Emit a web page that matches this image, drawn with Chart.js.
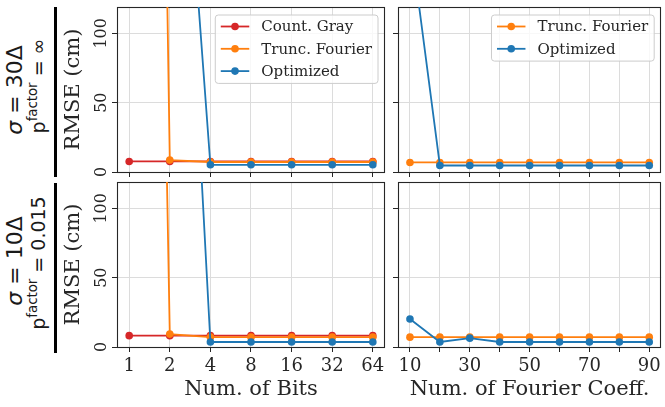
<!DOCTYPE html>
<html>
<head>
<meta charset="utf-8">
<script src="https://cdn.jsdelivr.net/npm/chart.js@4.4.1/dist/chart.umd.min.js"></script>
<style>
  body { margin: 0; background: #fff; width: 665px; height: 407px; overflow: hidden; position: relative; }
  canvas { position: absolute; }
  .bar { position: absolute; left: 53.5px; width: 3px; background: #000; }
  .lab { position: absolute; transform: translate(-50%, -50%) rotate(-90deg); line-height: 1;
         white-space: nowrap; font-family: "DejaVu Sans"; color: #1a1a1a; }
  .lab sup { font-size: 0.7em; vertical-align: 0.55em; line-height: 0; }
</style>
</head>
<body>
<div class="bar" style="top:7px;height:170px"></div>
<div class="bar" style="top:183px;height:170px"></div>
<div class="lab" style="left:15px;top:90px;font-size:22px"><i>σ</i> = 30Δ</div>
<div class="lab" style="left:38px;top:86px;font-size:19px">p<sup>factor</sup> = ∞</div>
<div class="lab" style="left:15px;top:261px;font-size:22px"><i>σ</i> = 10Δ</div>
<div class="lab" style="left:38px;top:263px;font-size:19px">p<sup>factor</sup> = 0.015</div>

<canvas id="tl" width="332" height="180" style="left:58px;top:0"></canvas>
<canvas id="tr" width="275" height="180" style="left:390px;top:0"></canvas>
<canvas id="bl" width="332" height="232" style="left:58px;top:175px"></canvas>
<canvas id="br" width="275" height="232" style="left:390px;top:175px"></canvas>

<script>
const bits = [1, 2, 4, 8, 16, 32, 64];
const coeffs = [10, 20, 30, 40, 50, 60, 70, 80, 90];
const yTicks = [0, 50, 100];

// sigma = 30Δ, p_factor = ∞
const grayBitsTop  = [7.6, 7.6, 7.6, 7.6, 7.6, 7.6, 7.6];
const truncBitsTop = [1870, 8.6, 7.2, 7.2, 7.2, 7.2, 7.2];
const optBitsTop   = [null, 400, 5.2, 5.2, 5.2, 5.2, 5.2];
const truncCoefTop = [6.9, 6.9, 6.9, 6.9, 6.9, 6.9, 6.9, 6.9, 6.9];
const optCoefTop   = [170, 4.7, 4.7, 4.7, 4.7, 4.7, 4.7, 4.7, 4.7];

// sigma = 10Δ, p_factor = 0.015
const grayBitsBot  = [8.2, 8.2, 8.2, 8.2, 8.2, 8.2, 8.2];
const truncBitsBot = [1600, 9.3, 7.1, 7.1, 7.1, 7.1, 7.1];
const optBitsBot   = [null, 550, 3.6, 3.6, 3.6, 3.6, 3.6];
const truncCoefBot = [7.1, 7.1, 7.1, 7.1, 7.1, 7.1, 7.1, 7.1, 7.1];
const optCoefBot   = [20.2, 3.6, 6.4, 3.6, 3.6, 3.6, 3.6, 3.6, 3.6];

const RED = '#d62728', ORANGE = '#ff7f0e', BLUE = '#1f77b4';
const INK = '#262626', GRID = '#dcdcdc';
const SERIF = '"DejaVu Serif"';

function series(label, xs, ys, color, order) {
  return {
    label, order,
    data: xs.map((x, i) => ({ x, y: ys[i] })),
    borderColor: color, backgroundColor: color,
    borderWidth: 1.8, pointRadius: 3.8, pointHoverRadius: 3.8, pointBorderWidth: 0,
    clip: { left: 6, right: 6, top: 0, bottom: 6 }
  };
}

// frame round the plot area, matplotlib style
const frame = {
  id: 'frame',
  beforeDatasetsDraw(chart) {
    const { ctx, chartArea: a } = chart;
    ctx.save();
    ctx.strokeStyle = INK;
    ctx.lineWidth = 1.1;
    ctx.strokeRect(Math.round(a.left) + 0.5, Math.round(a.top) + 0.5,
                   Math.round(a.right - a.left) - 1, Math.round(a.bottom - a.top));
    ctx.restore();
  }
};

// rotated y tick labels
const yLabels = {
  id: 'yLabels',
  afterDraw(chart, args, opts) {
    if (!opts.show) return;
    const { ctx } = chart;
    const y = chart.scales.y;
    ctx.save();
    ctx.font = '16px ' + SERIF;
    ctx.fillStyle = INK;
    ctx.textAlign = 'center';
    ctx.textBaseline = 'alphabetic';
    y.ticks.forEach(t => {
      ctx.save();
      ctx.translate(opts.x, y.getPixelForValue(t.value));
      ctx.rotate(-Math.PI / 2);
      ctx.fillText(String(t.value), 0, 0);
      ctx.restore();
    });
    ctx.restore();
  }
};

// boxed legend inside the upper right corner
const boxLegend = {
  id: 'boxLegend',
  afterDatasetsDraw(chart, args, opts) {
    if (!opts.show) return;
    const { ctx, chartArea: a } = chart;
    const sets = chart.data.datasets;
    ctx.save();
    ctx.font = '15px ' + SERIF;
    const tw = Math.max(...sets.map(d => ctx.measureText(d.label).width));
    const rowH = 22.3;
    const w = tw + 52, h = sets.length * rowH + 1.5;
    const x0 = a.right - 7 - w, y0 = a.top + 8;
    ctx.beginPath();
    ctx.roundRect(x0, y0, w, h, 3);
    ctx.fillStyle = 'rgba(255,255,255,0.8)';
    ctx.fill();
    ctx.strokeStyle = '#cccccc';
    ctx.lineWidth = 1;
    ctx.stroke();
    sets.forEach((d, i) => {
      const cy = y0 + 11.5 + i * rowH;
      ctx.strokeStyle = d.borderColor;
      ctx.lineWidth = 1.8;
      ctx.beginPath();
      ctx.moveTo(x0 + 5.5, cy);
      ctx.lineTo(x0 + 34, cy);
      ctx.stroke();
      ctx.fillStyle = d.borderColor;
      ctx.beginPath();
      ctx.arc(x0 + 19.75, cy, 3.8, 0, Math.PI * 2);
      ctx.fill();
      ctx.fillStyle = INK;
      ctx.textBaseline = 'middle';
      ctx.fillText(d.label, x0 + 46, cy + 1);
    });
    ctx.restore();
  }
};

function makeChart(id, cfg) {
  const xScale = cfg.kind === 'bits'
    ? { type: 'logarithmic', min: Math.pow(2, -0.3), max: 64 * Math.pow(2, 0.3),
        afterBuildTicks: s => { s.ticks = bits.map(v => ({ value: v })); } }
    : { type: 'linear', min: 6, max: 94,
        afterBuildTicks: s => { s.ticks = coeffs.map(v => ({ value: v })); } };
  Object.assign(xScale, {
    afterFit: s => { s.height = cfg.xh; },
    border: { display: false },
    grid: { color: GRID, lineWidth: 1, tickColor: INK, tickLength: 5 },
    ticks: {
      autoSkip: false, maxRotation: 0, padding: 4, color: INK,
      font: { family: SERIF, size: 18 },
      callback: v => {
        if (!cfg.xTitle) return '';
        if (cfg.kind === 'coef' && v % 20 !== 10) return '';
        return String(v);
      }
    },
    title: {
      display: !!cfg.xTitle, text: cfg.xTitle, color: INK,
      font: { family: SERIF, size: 21 }, padding: { top: 0, bottom: 5 }
    }
  });
  return new Chart(document.getElementById(id), {
    type: 'line',
    data: { datasets: cfg.datasets },
    options: {
      responsive: false, animation: false, events: [],
      layout: { padding: { left: 0, top: 7, right: cfg.padR, bottom: 0 } },
      scales: {
        x: xScale,
        y: {
          min: 0, max: 119,
          afterBuildTicks: s => { s.ticks = yTicks.map(v => ({ value: v })); },
          afterFit: s => { s.width = cfg.yw; },
          border: { display: false },
          grid: { color: GRID, lineWidth: 1, tickColor: INK, tickLength: 5 },
          ticks: { display: false },
          title: {
            display: cfg.yw > 20, text: 'RMSE (cm)', color: INK,
            font: { family: SERIF, size: 21 }, padding: { top: 3, bottom: 0 }
          }
        }
      },
      plugins: {
        legend: { display: false },
        tooltip: { enabled: false },
        yLabels: { show: cfg.yw > 20, x: 47.5 },
        boxLegend: { show: !!cfg.legend }
      }
    },
    plugins: [frame, yLabels, boxLegend]
  });
}

makeChart('tl', {
  kind: 'bits', yw: 59, xh: 8, padR: 5, legend: true,
  datasets: [
    series('Count. Gray', bits, grayBitsTop, RED, 3),
    series('Trunc. Fourier', bits, truncBitsTop, ORANGE, 2),
    series('Optimized', bits, optBitsTop, BLUE, 1)
  ]
});
makeChart('tr', {
  kind: 'coef', yw: 8, xh: 8, padR: 1, legend: true,
  datasets: [
    series('Trunc. Fourier', coeffs, truncCoefTop, ORANGE, 2),
    series('Optimized', coeffs, optCoefTop, BLUE, 1)
  ]
});
makeChart('bl', {
  kind: 'bits', yw: 59, xh: 60, padR: 5, xTitle: 'Num. of Bits',
  datasets: [
    series('Count. Gray', bits, grayBitsBot, RED, 3),
    series('Trunc. Fourier', bits, truncBitsBot, ORANGE, 2),
    series('Optimized', bits, optBitsBot, BLUE, 1)
  ]
});
makeChart('br', {
  kind: 'coef', yw: 8, xh: 60, padR: 1, xTitle: 'Num. of Fourier Coeff.',
  datasets: [
    series('Trunc. Fourier', coeffs, truncCoefBot, ORANGE, 2),
    series('Optimized', coeffs, optCoefBot, BLUE, 1)
  ]
});
</script>
</body>
</html>
